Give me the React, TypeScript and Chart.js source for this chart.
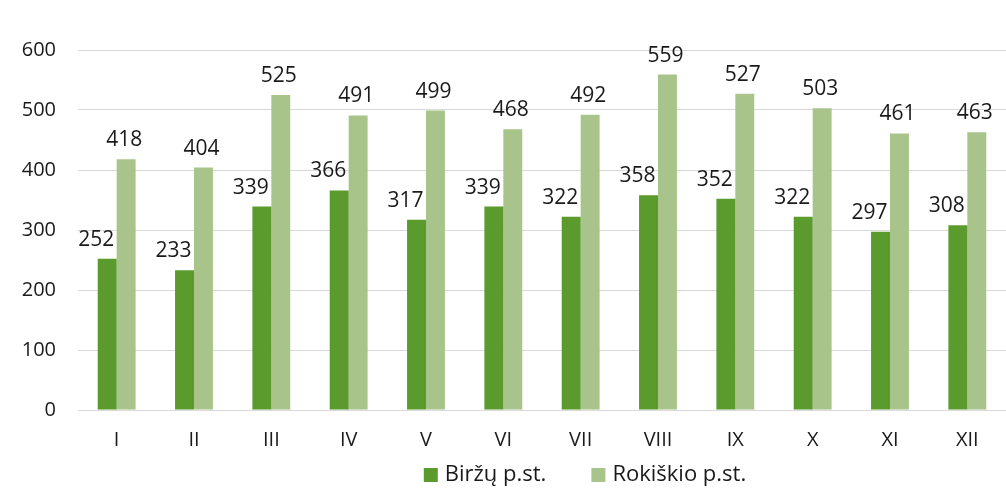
import React, { useEffect, useRef } from "react";
import { Chart, registerables } from "chart.js";

Chart.register(...registerables);

const categories = ["I", "II", "III", "IV", "V", "VI", "VII", "VIII", "IX", "X", "XI", "XII"];
const birzuValues = [252, 233, 339, 366, 317, 339, 322, 358, 352, 322, 297, 308];
const rokiskioValues = [418, 404, 525, 491, 499, 468, 492, 559, 527, 503, 461, 463];
const seriesNames = ["Biržų p.st.", "Rokiškio p.st."];
const yTicks = [0, 100, 200, 300, 400, 500, 600];

const DARK = "#5b9a2c";
const LIGHT = "#a9c48b";
const TEXT = "#1a1a1a";
const FONT = "'Open Sans', 'Noto Sans', sans-serif";

const dataLabelsPlugin = {
  id: "dataLabels",
  afterDatasetsDraw(chart: any) {
    const ctx = chart.ctx;
    const offsets = [-11, -2];
    ctx.save();
    ctx.font = `21px ${FONT}`;
    ctx.fillStyle = TEXT;
    ctx.textAlign = "center";
    ctx.textBaseline = "alphabetic";
    chart.data.datasets.forEach((ds: any, di: number) => {
      const meta = chart.getDatasetMeta(di);
      meta.data.forEach((el: any, i: number) => {
        ctx.fillText(String(ds.data[i]), el.x + offsets[di], el.y - 13);
      });
    });
    ctx.restore();
  },
};

const customLegendPlugin = {
  id: "customLegend",
  afterDraw(chart: any) {
    const ctx = chart.ctx;
    const box = 14;
    const gapBoxText = 7;
    const itemGap = 45;
    ctx.save();
    ctx.font = `22px ${FONT}`;
    const items = chart.data.datasets.map((ds: any) => ({
      text: ds.label,
      color: ds.backgroundColor,
      w: box + gapBoxText + ctx.measureText(ds.label).width,
    }));
    const total = items.reduce((s: number, it: any) => s + it.w, 0) + itemGap * (items.length - 1);
    const centerX = 585;
    const cy = 475;
    let x = centerX - total / 2;
    ctx.textBaseline = "middle";
    ctx.textAlign = "left";
    items.forEach((it: any) => {
      ctx.fillStyle = it.color;
      ctx.fillRect(x, cy - box / 2, box, box);
      ctx.fillStyle = TEXT;
      ctx.fillText(it.text, x + box + gapBoxText, cy);
      x += it.w + itemGap;
    });
    ctx.restore();
  },
};

export default function App() {
  const canvasRef = useRef<HTMLCanvasElement | null>(null);

  useEffect(() => {
    document.body.style.margin = "0";
    const canvas = canvasRef.current;
    if (!canvas) return;
    const chart = new Chart(canvas, {
      type: "bar",
      data: {
        labels: categories,
        datasets: [
          {
            label: seriesNames[0],
            data: birzuValues,
            backgroundColor: DARK,
            categoryPercentage: 0.49,
            barPercentage: 1,
          },
          {
            label: seriesNames[1],
            data: rokiskioValues,
            backgroundColor: LIGHT,
            categoryPercentage: 0.49,
            barPercentage: 1,
          },
        ],
      },
      options: {
        animation: false,
        responsive: false,
        maintainAspectRatio: false,
        layout: { padding: { top: 50, right: 0, bottom: 0, left: 0 } },
        plugins: {
          legend: { display: false },
          tooltip: { enabled: false },
        },
        scales: {
          x: {
            grid: { display: false, drawTicks: false },
            border: { display: false },
            ticks: {
              padding: 18,
              color: TEXT,
              font: { family: FONT, size: 20 },
            },
            afterFit(scale: any) {
              scale.height = 88;
            },
          },
          y: {
            min: 0,
            max: 600,
            afterBuildTicks(scale: any) {
              scale.ticks = yTicks.map((v) => ({ value: v }));
            },
            grid: { color: "#d9d9d9", lineWidth: 1, drawTicks: false },
            border: { display: false },
            ticks: {
              padding: 22,
              color: TEXT,
              font: { family: FONT, size: 20 },
            },
            afterFit(scale: any) {
              scale.width = 78;
            },
          },
        },
      },
      plugins: [dataLabelsPlugin, customLegendPlugin],
    });
    return () => chart.destroy();
  }, []);

  return (
    <div style={{ width: 1006, height: 498, background: "#ffffff" }}>
      <canvas ref={canvasRef} width={1006} height={498} style={{ display: "block" }} />
    </div>
  );
}
